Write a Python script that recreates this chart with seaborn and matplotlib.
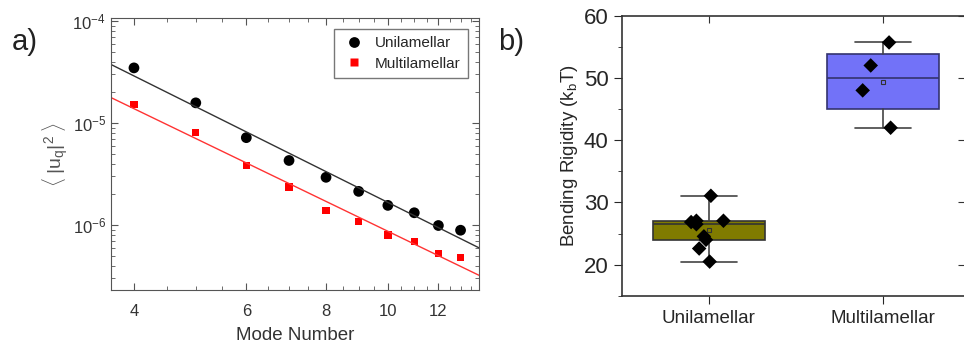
import numpy as np
import pandas as pd
import matplotlib
matplotlib.use('Agg')
import matplotlib.pyplot as plt
import matplotlib.ticker as mticker
import seaborn as sns

# a) fluctuation spectrum
mode_number = [4, 5, 6, 7, 8, 9, 10, 11, 12, 13]
uni_uq2 = [3.48e-5, 1.58e-5, 7.2e-6, 4.3e-6, 2.94e-6, 2.14e-6, 1.56e-6, 1.32e-6, 9.9e-7, 8.9e-7]
multi_uq2 = [1.52e-5, 8.1e-6, 3.82e-6, 2.36e-6, 1.39e-6, 1.09e-6, 8.0e-7, 6.86e-7, 5.23e-7, 4.79e-7]

# b) bending rigidity per vesicle
groups = ['Unilamellar', 'Multilamellar']
uni_rigidity = [26.85, 27.06, 26.5, 27.06, 31.07, 24.55, 24.0, 22.6, 20.5]
uni_jitter = [-0.10, -0.07, -0.07, 0.085, 0.013, -0.027, -0.015, -0.054, 0.006]
multi_rigidity = [55.7, 52.0, 48.0, 42.0]
multi_jitter = [0.033, -0.072, -0.118, 0.042]

sns.set_style("ticks")
plt.rcParams['font.family'] = ['Liberation Sans', 'DejaVu Sans']
plt.rcParams['mathtext.fontset'] = 'custom'
plt.rcParams['mathtext.rm'] = 'Liberation Sans'
plt.rcParams['mathtext.it'] = 'Liberation Sans:italic'
plt.rcParams['axes.edgecolor'] = '#333333'

fig = plt.figure(figsize=(9.64, 3.56), dpi=100)
ax1 = fig.add_axes([0.115, 0.185, 0.382, 0.764])
ax2 = fig.add_axes([0.645, 0.169, 0.357, 0.787])

# ---- panel a ----
df_a = pd.DataFrame({
    'mode': mode_number * 2,
    'uq2': uni_uq2 + multi_uq2,
    'type': ['Unilamellar'] * len(mode_number) + ['Multilamellar'] * len(mode_number),
})
xlim = (3.68, 13.9)
xfit = np.geomspace(xlim[0], xlim[1], 50)
fit_colors = {'Unilamellar': '#333333', 'Multilamellar': '#ff3333'}
for name, vals in [('Unilamellar', uni_uq2), ('Multilamellar', multi_uq2)]:
    # power-law fit in log-log space
    p = np.polyfit(np.log10(mode_number), np.log10(vals), 1)
    sns.lineplot(x=xfit, y=10 ** np.polyval(p, np.log10(xfit)), ax=ax1,
                 color=fit_colors[name], linewidth=1.0, legend=False)

sns.scatterplot(data=df_a, x='mode', y='uq2', hue='type', style='type',
                palette={'Unilamellar': 'black', 'Multilamellar': '#ff0000'},
                markers={'Unilamellar': 'o', 'Multilamellar': 's'},
                size='type', sizes={'Unilamellar': 60, 'Multilamellar': 28},
                edgecolor='none', ax=ax1)
ax1.set_xscale('log')
ax1.set_yscale('log')
ax1.set_xlim(*xlim)
ax1.set_ylim(2.3e-7, 1.07e-4)
ax1.xaxis.set_major_locator(mticker.FixedLocator([4, 6, 8, 10, 12]))
ax1.xaxis.set_major_formatter(mticker.FixedFormatter(['4', '6', '8', '10', '12']))
ax1.xaxis.set_minor_locator(mticker.FixedLocator(np.arange(4, 14, 0.5)))
ax1.xaxis.set_minor_formatter(mticker.NullFormatter())
ax1.yaxis.set_major_locator(mticker.LogLocator(base=10, numticks=10))
ax1.yaxis.set_minor_locator(mticker.LogLocator(base=10, subs=np.arange(2, 10), numticks=10))
ax1.tick_params(which='both', direction='in', top=True, right=True,
                labelsize=12, labelcolor='#333333', color='#555555')
ax1.tick_params(which='major', length=5)
ax1.tick_params(which='minor', length=3)
ax1.tick_params(axis='x', which='both', pad=10)
ax1.set_xlabel('Mode Number', fontsize=13.5, color='#333333', labelpad=6)
ax1.set_ylabel(r'$\langle\;|\mathrm{u}_\mathrm{q}|^2\;\rangle$', fontsize=14,
               color='#555555', labelpad=2)
for s in ax1.spines.values():
    s.set_color('#555555')
leg = ax1.legend(title=None, loc='upper right', fontsize=11, frameon=True,
                 fancybox=False, edgecolor='#555555', borderpad=0.5,
                 handletextpad=0.6, handlelength=1.6, labelspacing=0.4,
                 borderaxespad=0.7)
leg.get_frame().set_linewidth(1.0)
fig.text(0.012, 0.86, 'a)', fontsize=21, color='#222222')

# ---- panel b ----
stats = []
for name, vals in [('Unilamellar', uni_rigidity), ('Multilamellar', multi_rigidity)]:
    v = np.array(vals)
    stats.append({
        'label': name,
        'med': np.percentile(v, 50, method='midpoint'),
        'q1': np.percentile(v, 25, method='midpoint'),
        'q3': np.percentile(v, 75, method='midpoint'),
        'whislo': v.min(),
        'whishi': v.max(),
        'mean': v.mean(),
        'fliers': [],
    })
bp = ax2.bxp(stats, positions=[0, 1], widths=0.64, capwidths=0.32,
             patch_artist=True, showmeans=True,
             boxprops=dict(edgecolor='#333333', linewidth=1.2),
             medianprops=dict(color='#333333', linewidth=1.2),
             whiskerprops=dict(color='#444444', linewidth=1.2),
             capprops=dict(color='#444444', linewidth=1.2),
             meanprops=dict(marker='s', markerfacecolor='none',
                            markeredgecolor='#333333', markersize=3.5,
                            markeredgewidth=0.8))
for patch, c in zip(bp['boxes'], ['#807b00', '#7272f8']):
    patch.set_facecolor(c)
bp['boxes'][1].set_edgecolor('#33336e')
bp['medians'][1].set_color('#33336e')

df_b = pd.DataFrame({
    'x': [0 + j for j in uni_jitter] + [1 + j for j in multi_jitter],
    'y': uni_rigidity + multi_rigidity,
})
sns.scatterplot(data=df_b, x='x', y='y', marker='D', color='black',
                s=55, edgecolor='none', ax=ax2, zorder=5)

ax2.set_xlim(-0.497, 1.473)
ax2.set_ylim(15, 60)
ax2.set_xticks([0, 1])
ax2.set_xticklabels(groups)
ax2.yaxis.set_major_locator(mticker.MultipleLocator(10))
ax2.yaxis.set_minor_locator(mticker.MultipleLocator(5))
ax2.tick_params(axis='y', which='major', direction='out', length=6, labelsize=16)
ax2.tick_params(axis='y', which='minor', direction='out', length=3)
ax2.tick_params(axis='x', direction='out', length=6, labelsize=13.5, pad=4)
ax2.set_xlabel('')
ax2.set_ylabel(r'Bending Rigidity (k$_\mathrm{b}$T)', fontsize=13.5, labelpad=3)
for s in ax2.spines.values():
    s.set_color('#333333')
    s.set_linewidth(1.2)
ax2.spines['right'].set_visible(False)

# inward ticks on the top and right edges (Origin style frame)
top = ax2.twiny()
top.set_xlim(ax2.get_xlim())
top.set_xticks([0, 1])
top.tick_params(direction='in', length=5, labeltop=False, color='#333333')
right = ax2.twinx()
right.set_ylim(ax2.get_ylim())
right.yaxis.set_major_locator(mticker.MultipleLocator(10))
right.tick_params(direction='in', length=6, labelright=False, color='#333333')
for tw in (top, right):
    for s in tw.spines.values():
        s.set_visible(False)
    tw.grid(False)

fig.text(0.517, 0.86, 'b)', fontsize=21, color='#222222')

fig.savefig('out.png', dpi=100)
